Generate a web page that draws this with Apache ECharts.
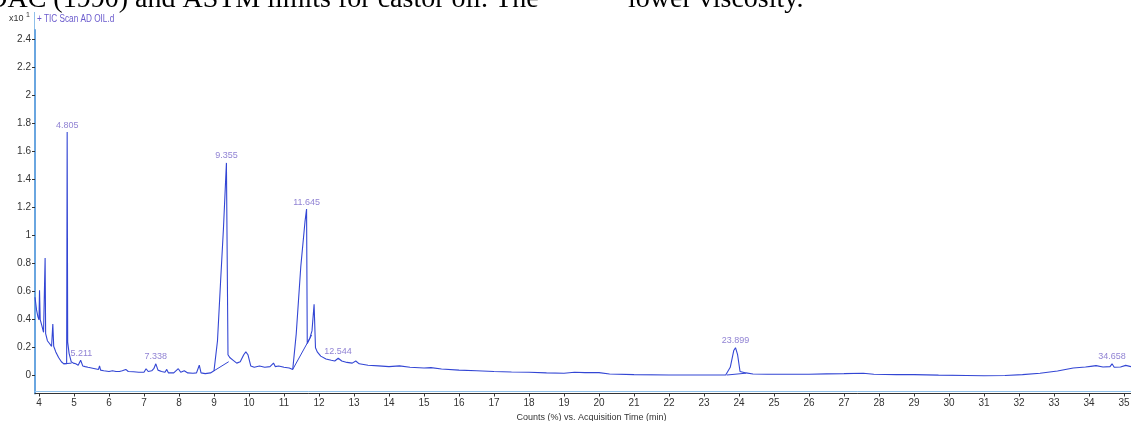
<!DOCTYPE html>
<html>
<head>
<meta charset="utf-8">
<title>TIC Scan AD OIL.d</title>
<script src="https://cdn.jsdelivr.net/npm/echarts@6/dist/echarts.min.js"></script>
<style>
html, body {margin: 0; padding: 0; background: #fff;}
#chart {width: 1131px; height: 421px;}
</style>
</head>
<body>
<div id="chart"></div>
<script>
// TIC trace: [acquisition time (min), counts (x10^1 %)]
var tic = [
    [3.886, 0.56], [3.93, 0.47], [3.97, 0.42], [4.0, 0.40], [4.015, 0.61], [4.035, 0.40],
    [4.08, 0.36], [4.13, 0.31], [4.165, 0.30], [4.175, 0.84], [4.19, 0.30], [4.24, 0.25],
    [4.30, 0.23], [4.36, 0.21], [4.395, 0.37], [4.42, 0.21], [4.48, 0.17], [4.56, 0.13],
    [4.64, 0.10], [4.71, 0.085], [4.79, 0.085], [4.805, 1.74], [4.82, 0.24], [4.86, 0.16],
    [4.92, 0.10], [4.98, 0.09], [5.05, 0.085], [5.12, 0.075], [5.19, 0.11], [5.25, 0.07],
    [5.32, 0.065], [5.40, 0.06], [5.5, 0.055], [5.6, 0.05], [5.7, 0.045], [5.73, 0.07],
    [5.76, 0.04], [5.85, 0.035], [6.0, 0.03], [6.1, 0.035], [6.2, 0.03], [6.3, 0.03],
    [6.38, 0.035], [6.48, 0.045], [6.55, 0.03], [6.7, 0.028], [6.85, 0.025], [7.0, 0.025],
    [7.06, 0.05], [7.12, 0.03], [7.22, 0.035], [7.28, 0.05], [7.338, 0.085], [7.4, 0.04],
    [7.5, 0.03], [7.6, 0.025], [7.65, 0.045], [7.7, 0.02], [7.85, 0.02], [7.98, 0.05],
    [8.05, 0.025], [8.15, 0.035], [8.25, 0.02], [8.4, 0.018], [8.5, 0.02], [8.58, 0.075],
    [8.63, 0.02], [8.75, 0.015], [8.9, 0.02], [9.0, 0.035], [9.1, 0.25], [9.19, 0.68],
    [9.27, 1.05], [9.355, 1.52], [9.4, 0.15], [9.45, 0.13], [9.55, 0.11], [9.65, 0.09],
    [9.75, 0.10], [9.85, 0.15], [9.91, 0.17], [9.97, 0.15], [10.05, 0.07], [10.15, 0.06],
    [10.3, 0.07], [10.45, 0.06], [10.6, 0.065], [10.7, 0.09], [10.75, 0.065], [10.85, 0.07],
    [11.0, 0.06], [11.15, 0.055], [11.25, 0.045], [11.35, 0.3], [11.48, 0.78], [11.6, 1.1],
    [11.645, 1.19], [11.665, 0.23], [11.74, 0.27], [11.8, 0.32], [11.86, 0.51], [11.9, 0.2],
    [11.95, 0.17], [12.05, 0.14], [12.2, 0.12], [12.35, 0.11], [12.45, 0.105], [12.55, 0.125],
    [12.65, 0.105], [12.8, 0.095], [12.95, 0.09], [13.05, 0.105], [13.15, 0.085], [13.4, 0.075],
    [13.7, 0.07], [14.0, 0.065], [14.3, 0.07], [14.6, 0.06], [15.0, 0.055], [15.2, 0.058],
    [15.5, 0.048], [16.0, 0.04], [16.5, 0.035], [17.0, 0.03], [17.5, 0.027], [18.0, 0.025],
    [18.5, 0.02], [19.0, 0.018], [19.3, 0.025], [19.6, 0.022], [20.0, 0.022], [20.3, 0.012],
    [21.0, 0.008], [22.0, 0.005], [23.0, 0.005], [23.62, 0.005], [23.75, 0.06], [23.85, 0.18],
    [23.9, 0.2], [23.96, 0.15], [24.03, 0.03], [24.2, 0.02], [24.4, 0.012], [24.8, 0.01],
    [25.5, 0.01], [26.0, 0.01], [26.5, 0.013], [27.0, 0.015], [27.55, 0.018], [27.85, 0.01],
    [28.5, 0.008], [29.0, 0.008], [29.7, 0.004], [30.5, 0.002], [31.0, 0.0], [31.6, 0.002],
    [32.1, 0.008], [32.6, 0.018], [33.1, 0.034], [33.55, 0.055], [33.9, 0.062], [34.05, 0.067],
    [34.2, 0.072], [34.4, 0.062], [34.6, 0.065], [34.658, 0.085], [34.72, 0.06], [34.9, 0.062],
    [35.05, 0.074], [35.2, 0.065]
];

// integration baselines drawn under some peaks
var baselines = [
    [[4.70, 0.085], [4.93, 0.09]],
    [[9.0, 0.035], [9.42, 0.10]],
    [[11.25, 0.045], [11.79, 0.29]],
    [[23.65, 0.005], [24.2, 0.018]]
];

// labelled peaks
var peakTimes = [4.805, 5.211, 7.338, 9.355, 11.645, 12.544, 23.899, 34.658];
var peakHeights = [1.74, 0.11, 0.085, 1.52, 1.19, 0.125, 0.2, 0.085];

var timeRange = [3.886, 35.2];
var countRange = [-0.127, 2.469];

var font = '"Liberation Sans", Arial, sans-serif';
var serif = '"Liberation Serif", "Times New Roman", serif';
var traceColor = '#3346d4';
var labelColor = '#7463c8';

function isStep(v, step) {
    var k = v / step;
    return Math.abs(k - Math.round(k)) < 1e-6;
}

var chart = echarts.init(document.getElementById('chart'));

var series = [{
    type: 'line',
    data: tic,
    symbol: 'none',
    lineStyle: {color: traceColor, width: 1.1},
    z: 3
}];
baselines.forEach(function (seg) {
    series.push({
        type: 'line',
        data: seg,
        symbol: 'none',
        lineStyle: {color: traceColor, width: 1},
        z: 2
    });
});
series.push({
    type: 'scatter',
    data: peakTimes.map(function (t, i) { return [t, peakHeights[i]]; }),
    symbolSize: 1,
    itemStyle: {color: 'rgba(0,0,0,0)'},
    label: {
        show: true,
        position: 'top',
        distance: 2,
        color: labelColor,
        fontFamily: font,
        fontSize: 9,
        formatter: function (p) { return p.value[0].toFixed(3); }
    },
    z: 4
});

var option = {
    animation: false,
    backgroundColor: '#fff',
    grid: {left: 35, right: 0, top: 30, bottom: 27.5, outerBoundsMode: 'none'},
    xAxis: [{
        type: 'value',
        min: timeRange[0],
        max: timeRange[1],
        splitNumber: 31,
        minInterval: 1,
        maxInterval: 1,
        axisLine: {onZero: false, lineStyle: {color: '#333', width: 1}},
        axisTick: {length: 3, lineStyle: {color: '#333'}},
        axisLabel: {
            color: '#333', fontFamily: font, fontSize: 10, margin: 5,
            showMinLabel: false, showMaxLabel: false,
            formatter: function (v) { return isStep(v, 1) ? String(Math.round(v)) : ''; }
        },
        splitLine: {show: false},
        name: 'Counts (%) vs. Acquisition Time (min)',
        nameLocation: 'middle',
        nameGap: 19,
        nameTextStyle: {color: '#333', fontFamily: font, fontSize: 9, padding: [0, 0, 0, 17]}
    }, {
        type: 'value',
        min: timeRange[0],
        max: timeRange[1],
        position: 'bottom',
        offset: -2,
        axisLine: {onZero: false, lineStyle: {color: '#8fc0ea', width: 1}},
        axisTick: {show: false},
        axisLabel: {show: false},
        splitLine: {show: false}
    }],
    yAxis: {
        type: 'value',
        min: countRange[0],
        max: countRange[1],
        splitNumber: 13,
        minInterval: 0.2,
        maxInterval: 0.2,
        axisLine: {show: true, onZero: false, lineStyle: {color: '#6aa6e0', width: 2}},
        axisTick: {show: true, length: 3, lineStyle: {color: '#333'}},
        axisLabel: {
            color: '#333', fontFamily: font, fontSize: 10, margin: 4,
            showMinLabel: false, showMaxLabel: false,
            formatter: function (v) { return isStep(v, 0.2) ? String(parseFloat(v.toFixed(1))) : ''; }
        },
        splitLine: {show: false}
    },
    graphic: [
        {
            type: 'text', x: -33, y: 0,
            style: {text: 'AOAC (1990) and ASTM limits for castor oil. The', fill: '#000',
                fontFamily: serif, fontSize: 28, verticalAlign: 'middle'}
        },
        {
            type: 'text', x: 628, y: 0,
            style: {text: 'lower viscosity.', fill: '#000',
                fontFamily: serif, fontSize: 28, verticalAlign: 'middle'}
        },
        {
            type: 'text', x: 9, y: 19,
            style: {text: 'x10', fill: '#333', fontFamily: font, fontSize: 9, verticalAlign: 'middle'}
        },
        {
            type: 'text', x: 26, y: 15,
            style: {text: '1', fill: '#333', fontFamily: font, fontSize: 7, verticalAlign: 'middle'}
        },
        {
            type: 'text', x: 37, y: 19, scaleX: 0.82,
            style: {text: '+ TIC Scan AD OIL.d', fill: '#6a5acd', fontFamily: font, fontSize: 10, verticalAlign: 'middle'}
        },
        {
            type: 'line',
            shape: {x1: 34.5, y1: 12, x2: 34.5, y2: 30},
            style: {stroke: '#8fc0ea', lineWidth: 1}
        }
    ],
    series: series
};

chart.setOption(option);

window.onresize = function () {
    chart.resize();
};
</script>
</body>
</html>
